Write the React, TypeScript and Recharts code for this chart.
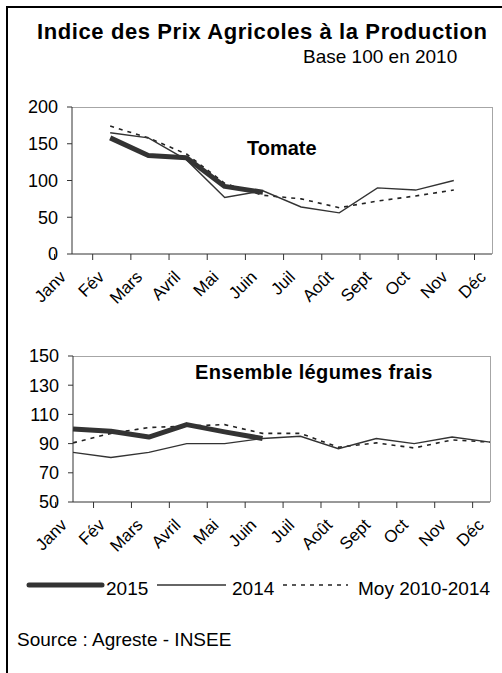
import React from "react";
import { LineChart, Line, XAxis, YAxis } from "recharts";

const FONT = "'Liberation Sans', Arial, sans-serif";

const months = ["Janv", "Fév", "Mars", "Avril", "Mai", "Juin", "Juil", "Août", "Sept", "Oct", "Nov", "Déc"];

// Tomate
const tomate2015 = [null, 158, 134, 131, 92, 84, null, null, null, null, null, null];
const tomate2014 = [null, 165, 158, 128, 77, 86, 64, 56, 90, 87, 100, null];
const tomateMoy = [null, 174, 158, 136, 96, 80, 75, 63, 72, 79, 87, null];
const tomateTicks = [0, 50, 100, 150, 200];

// Ensemble légumes frais
const legumes2015 = [100, 98.5, 94.5, 103, 98, 93.5, null, null, null, null, null, null];
const legumes2014 = [84, 80.5, 84, 90, 90, 93.5, 95, 86.5, 93.5, 90, 94.5, 91];
const legumesMoy = [90.5, 97, 101, 102, 103, 97, 97, 87.5, 90.5, 87, 92.5, 91];
const legumesTicks = [50, 70, 90, 110, 130, 150];

const seriesNames = ["2015", "2014", "Moy 2010-2014"];

function buildRows(a: (number | null)[], b: (number | null)[], c: (number | null)[]) {
  return months.map((m, i) => ({ month: m, s2015: a[i], s2014: b[i], moy: c[i] }));
}

const tomateData = buildRows(tomate2015, tomate2014, tomateMoy);
const legumesData = buildRows(legumes2015, legumes2014, legumesMoy);

const AXIS = "#333";
const BORDER = "#a6a6a6";

function MonthTick(props: any) {
  const { x, y, payload, band } = props;
  const left = x - band / 2;
  const isLast = payload.value === months[months.length - 1];
  const tx = x - 5;
  const ty = y + 24;
  return (
    <g>
      <line x1={left} y1={y} x2={left} y2={y + 6} stroke={AXIS} />
      {isLast && <line x1={x + band / 2} y1={y} x2={x + band / 2} y2={y + 6} stroke={AXIS} />}
      <text
        x={tx}
        y={ty}
        textAnchor="end"
        fontSize={17}
        fontFamily={FONT}
        fill="#000"
        transform={`rotate(-45, ${tx}, ${ty})`}
      >
        {payload.value}
      </text>
    </g>
  );
}

function Panel({ data, domain, ticks, top, marginTop, yWidth, marginRight, band }: any) {
  return (
    <div style={{ position: "absolute", left: 0, top }}>
      <LineChart
        width={502}
        height={240}
        data={data}
        margin={{ top: marginTop, right: marginRight, bottom: 16, left: 0 }}
      >
        <XAxis
          dataKey="month"
          interval={0}
          height={60}
          tickSize={0}
          tickMargin={0}
          tickLine={false}
          axisLine={{ stroke: AXIS }}
          tick={<MonthTick band={band} />}
        />
        <YAxis
          domain={domain}
          ticks={ticks}
          width={yWidth}
          interval={0}
          tickSize={5}
          tickMargin={9}
          axisLine={{ stroke: AXIS }}
          tickLine={{ stroke: AXIS }}
          tick={{ fontSize: 18, fill: "#000", fontFamily: FONT }}
        />
        <Line dataKey="moy" name={seriesNames[2]} stroke="#222" strokeWidth={1.6} strokeDasharray="4 5" dot={false} activeDot={false} isAnimationActive={false} />
        <Line dataKey="s2014" name={seriesNames[1]} stroke="#333" strokeWidth={1.4} dot={false} activeDot={false} isAnimationActive={false} />
        <Line dataKey="s2015" name={seriesNames[0]} stroke="#333" strokeWidth={5} strokeLinejoin="round" dot={false} activeDot={false} isAnimationActive={false} />
      </LineChart>
    </div>
  );
}

const textStyle = (left: number, top: number, size: number, bold = false): React.CSSProperties => ({
  position: "absolute",
  left,
  top,
  fontSize: size,
  lineHeight: `${size}px`,
  fontWeight: bold ? "bold" : "normal",
  fontFamily: FONT,
  whiteSpace: "nowrap",
  color: "#000",
});

const frame = (left: number, top: number, width: number, height: number): React.CSSProperties => ({
  position: "absolute",
  left,
  top,
  width,
  height,
  borderTop: `1px solid ${BORDER}`,
  borderRight: `1px solid ${BORDER}`,
  boxSizing: "border-box",
  pointerEvents: "none",
});

export default function App() {
  return (
    <div style={{ position: "absolute", left: 0, top: 0, width: 502, height: 673, overflow: "hidden", background: "#fff" }}>
      <div style={{ position: "absolute", left: 6, top: 6, width: 700, height: 900, borderLeft: "2px solid #000", borderTop: "2px solid #000" }} />
      <div style={{ ...textStyle(37, 21, 22, true), letterSpacing: 0.6 }}>Indice des Prix Agricoles à la Production</div>
      <div style={textStyle(303, 47, 19)}>Base 100 en 2010</div>

      <div style={frame(72, 107, 421, 147)} />
      <Panel data={tomateData} domain={[0, 200]} ticks={tomateTicks} top={90} marginTop={17} yWidth={72} marginRight={10} band={35} />
      <div style={textStyle(247, 138, 20, true)}>Tomate</div>

      <div style={frame(73, 356, 418, 146)} />
      <Panel data={legumesData} domain={[50, 150]} ticks={legumesTicks} top={338} marginTop={18} yWidth={73} marginRight={12} band={34.75} />
      <div style={{ ...textStyle(195, 362, 20, true), letterSpacing: 0.4 }}>Ensemble légumes frais</div>

      <svg style={{ position: "absolute", left: 0, top: 575 }} width={502} height={20}>
        <line x1={29} y1={10} x2={102} y2={10} stroke="#333" strokeWidth={5} strokeLinecap="round" />
        <line x1={157} y1={10} x2={226} y2={10} stroke="#333" strokeWidth={1.4} />
        <line x1={283} y1={10} x2={348} y2={10} stroke="#222" strokeWidth={1.6} strokeDasharray="4 5" />
      </svg>
      <div style={textStyle(106, 579, 19)}>{seriesNames[0]}</div>
      <div style={textStyle(232, 579, 19)}>{seriesNames[1]}</div>
      <div style={textStyle(358, 579, 19)}>{seriesNames[2]}</div>

      <div style={textStyle(17, 630, 19)}>Source : Agreste - INSEE</div>
    </div>
  );
}
